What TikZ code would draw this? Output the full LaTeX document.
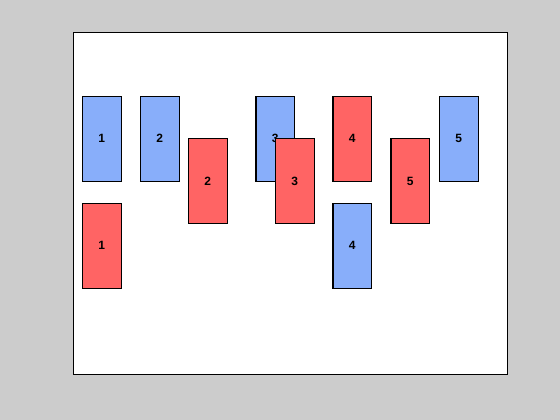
\documentclass[tikz,border=0pt]{standalone}
\usepackage{fontspec}
\setmainfont{Liberation Sans}
\definecolor{bg}{RGB}{204,204,204}
\definecolor{bbox}{RGB}{136,174,250}
\definecolor{rbox}{RGB}{255,100,100}
\begin{document}
\begin{tikzpicture}[x=0.75pt,y=-0.75pt,
  bar/.style={draw=black,line width=0.8pt,inner sep=0pt,outer sep=0pt,
    minimum width=29pt,minimum height=63.75pt,
    font=\fontsize{9}{10}\selectfont\bfseries},
  bluebar/.style={bar,fill=bbox},
  redbar/.style={bar,fill=rbox}]
\fill[bg] (0,0) rectangle (560,420);
\useasboundingbox (0,0) rectangle (560,420);
\draw[fill=white,line width=0.8pt] (73.3,32.3) rectangle (507.3,374.3);
% column 1
\node[bluebar] (b1) at (101.8,138.7) {1};
\node[redbar]  (r1) at (101.8,245.8) {1};
% column 2
\node[bluebar] (b2) at (159.8,138.7) {2};
\node[redbar]  (r2) at (207.8,181.3) {2};
% column 3
\node[bluebar] (b3) at (275.3,138.7) {3};
\node[redbar]  (r3) at (294.8,181.3) {3};
% column 4
\node[redbar]  (r4) at (352.3,138.7) {4};
\node[bluebar] (b4) at (352.3,245.8) {4};
% column 5
\node[redbar]  (r5) at (410.3,181.3) {5};
\node[bluebar] (b5) at (458.8,138.7) {5};
\end{tikzpicture}
\end{document}
